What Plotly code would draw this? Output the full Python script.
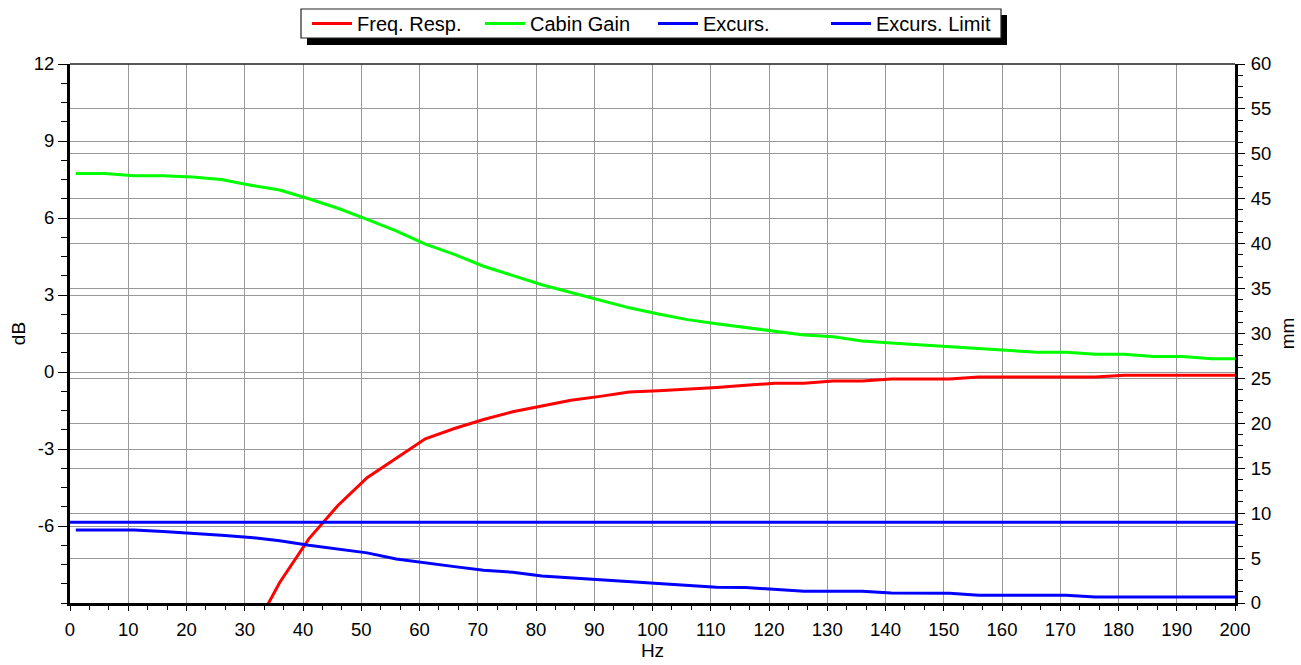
import plotly.graph_objects as go

# ---------------- data ----------------
hz = [1, 6, 11, 16, 21, 26, 31, 36, 41, 46, 51, 56, 61, 66, 71, 76, 81, 86, 91, 96,
      101, 106, 111, 116, 121, 126, 131, 136, 141, 146, 151, 156, 161, 166, 171, 176,
      181, 186, 191, 196, 201]

freq_hz = [31, 36, 41, 46, 51, 56, 61, 66, 71, 76, 81, 86, 91, 96,
           101, 106, 111, 116, 121, 126, 131, 136, 141, 146, 151, 156, 161, 166, 171, 176,
           181, 186, 191, 196, 201]
freq_resp = [-10.3, -8.2, -6.5, -5.2, -4.12, -3.36, -2.6, -2.2, -1.85, -1.55, -1.33, -1.1,
             -0.95, -0.78, -0.73, -0.67, -0.6, -0.52, -0.44, -0.44, -0.35, -0.35, -0.27,
             -0.27, -0.27, -0.19, -0.19, -0.19, -0.19, -0.19, -0.13, -0.13, -0.13, -0.13, -0.13]

cabin_gain = [7.73, 7.73, 7.65, 7.65, 7.6, 7.5, 7.28, 7.09, 6.75, 6.38, 5.95, 5.5, 4.98,
              4.58, 4.12, 3.76, 3.4, 3.1, 2.8, 2.5, 2.26, 2.04, 1.88, 1.74, 1.6, 1.44, 1.37,
              1.21, 1.13, 1.06, 0.98, 0.91, 0.85, 0.77, 0.77, 0.69, 0.69, 0.6, 0.6, 0.52, 0.52]

excursion = [8.13, 8.13, 8.13, 7.95, 7.78, 7.55, 7.3, 6.92, 6.42, 6.0, 5.58, 4.9, 4.45,
             4.05, 3.65, 3.42, 3.0, 2.78, 2.55, 2.36, 2.17, 1.96, 1.74, 1.72, 1.5, 1.3, 1.3,
             1.3, 1.1, 1.1, 1.08, 0.85, 0.85, 0.85, 0.85, 0.67, 0.67, 0.67, 0.67, 0.67, 0.67]

limit_hz = [0, 200]
excursion_limit = [9.0, 9.0]

db_ticks = [-6, -3, 0, 3, 6, 9, 12]
mm_ticks = [0, 5, 10, 15, 20, 25, 30, 35, 40, 45, 50, 55, 60]
hz_ticks = [0, 10, 20, 30, 40, 50, 60, 70, 80, 90, 100, 110, 120, 130, 140, 150, 160,
            170, 180, 190, 200]

# ---------------- layout constants ----------------
W, H = 1301, 665
L, R, T, B = 70, 66, 64, 62
PW, PH = W - L - R, H - T - B


def px(xp):
    return (xp - L) / PW


def py(yp):
    return (H - B - yp) / PH


FONT = "Liberation Sans, Arial, sans-serif"
GRID = "#999999"
TICKFONT = dict(family=FONT, size=18.5, color="black")
TITLEFONT = dict(family=FONT, size=19, color="black")

fig = go.Figure()
fig.add_trace(go.Scatter(x=freq_hz, y=freq_resp, name="Freq. Resp.", mode="lines",
                         line=dict(color="#ff0000", width=3), yaxis="y"))
fig.add_trace(go.Scatter(x=hz, y=cabin_gain, name="Cabin Gain", mode="lines",
                         line=dict(color="#00ff00", width=3), yaxis="y"))
fig.add_trace(go.Scatter(x=hz, y=excursion, name="Excurs.", mode="lines",
                         line=dict(color="#0000ff", width=3), yaxis="y2"))
fig.add_trace(go.Scatter(x=limit_hz, y=excursion_limit, name="Excurs. Limit", mode="lines",
                         line=dict(color="#0000ff", width=3), yaxis="y2"))

# legend box drawn in the reference position; the legend itself is transparent on top
BOX_L, BOX_T, BOX_R, BOX_B = 301, 9, 1001, 38
SHADOW = 6

fig.update_layout(
    width=W, height=H,
    margin=dict(l=L, r=R, t=T, b=B, pad=0, autoexpand=False),
    paper_bgcolor="white", plot_bgcolor="white",
    font=dict(family=FONT, size=18, color="black"),
    showlegend=True,
    legend=dict(orientation="h", x=px(BOX_L + 6), y=py(4), xanchor="left", yanchor="top",
                bgcolor="rgba(0,0,0,0)", borderwidth=0,
                font=dict(family=FONT, size=20, color="black"),
                entrywidth=118, entrywidthmode="pixels", tracegroupgap=0,
                itemwidth=40),
    xaxis=dict(range=[0, 200], tickvals=hz_ticks, ticktext=[str(v) for v in hz_ticks],
               showgrid=True, gridcolor=GRID, gridwidth=1, zeroline=False,
               showline=True, linecolor="black", linewidth=3,
               ticks="outside", ticklen=5, tickwidth=1, tickcolor="black",
               tickfont=TICKFONT, automargin=False,
               minor=dict(dtick=10 / 3, tick0=0, ticks="outside", ticklen=4,
                          tickcolor="black", showgrid=False),
               title=dict(text="Hz", font=TITLEFONT, standoff=5),
               ticklabelstandoff=3),
    yaxis=dict(range=[-9, 12], tickvals=db_ticks, ticktext=[str(v) for v in db_ticks],
               showgrid=True, gridcolor=GRID, gridwidth=1, zeroline=False,
               showline=True, linecolor="black", linewidth=3,
               ticks="outside", ticklen=9, tickwidth=1, tickcolor="black",
               tickfont=TICKFONT, automargin=False, ticklabelstandoff=0,
               minor=dict(dtick=0.75, tick0=0, ticks="outside", ticklen=6,
                          tickcolor="black", showgrid=False),
               title=dict(text="dB", font=TITLEFONT, standoff=4)),
    yaxis2=dict(range=[0, 60], overlaying="y", side="right", tickvals=mm_ticks,
                ticktext=[str(v) for v in mm_ticks],
                showgrid=True, gridcolor=GRID, gridwidth=1, zeroline=False,
                showline=True, linecolor="black", linewidth=3,
                ticks="outside", ticklen=7, tickwidth=1, tickcolor="black",
                tickfont=TICKFONT, automargin=False, ticklabelstandoff=2,
                minor=dict(dtick=1.25, tick0=0, ticks="outside", ticklen=5,
                           tickcolor="black", showgrid=False),
                title=dict(text="mm", font=TITLEFONT, standoff=11)),
    shapes=[
        dict(type="rect", xref="paper", yref="paper",
             x0=px(BOX_L + SHADOW), x1=px(BOX_R + SHADOW),
             y0=py(BOX_B + SHADOW + 1), y1=py(BOX_T + SHADOW),
             fillcolor="black", line=dict(width=0), layer="above"),
        dict(type="rect", xref="paper", yref="paper",
             x0=px(BOX_L), x1=px(BOX_R), y0=py(BOX_B), y1=py(BOX_T),
             fillcolor="white", line=dict(color="#222222", width=1.2), layer="above"),
        dict(type="line", xref="paper", yref="paper", x0=0, x1=1, y0=1, y1=1,
             line=dict(color="#222222", width=1.5), layer="above"),
    ],
)

fig.write_html("out.html", config={"displayModeBar": False},
               post_script="document.body.style.margin='0px';")
